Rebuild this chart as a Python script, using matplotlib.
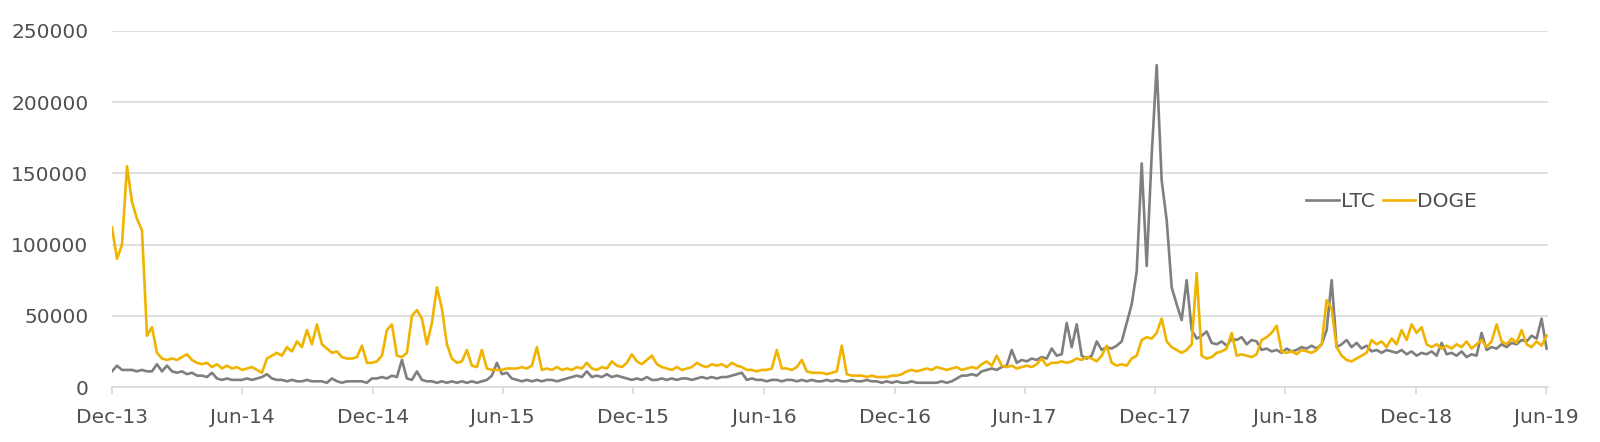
import numpy as np
import pandas as pd
import matplotlib
matplotlib.use("Agg")
import matplotlib.pyplot as plt
import matplotlib.dates as mdates

# weekly readings, thousands
start = "2013-12-01"

ltc_k = [
    11, 15, 12, 12, 12, 11, 12, 11, 11, 16, 11, 15, 11, 10, 11, 9, 10, 8, 8, 7,
    10, 6, 5, 6, 5, 5, 5, 6, 5, 6, 7, 9, 6, 5, 5, 4, 5, 4, 4, 5,
    4, 4, 4, 3, 6, 4, 3, 4, 4, 4, 4, 3, 6, 6, 7, 6, 8, 7, 19, 6,
    5, 11, 5, 4, 4, 3, 4, 3, 4, 3, 4, 3, 4, 3, 4, 5, 8, 17, 9, 10,
    6, 5, 4, 5, 4, 5, 4, 5, 5, 4, 5, 6, 7, 8, 7, 11, 7, 8, 7, 9,
    7, 8, 7, 6, 5, 6, 5, 7, 5, 5, 6, 5, 6, 5, 6, 6, 5, 6, 7, 6,
    7, 6, 7, 7, 8, 9, 10, 5, 6, 5, 5, 4, 5, 5, 4, 5, 5, 4, 5, 4,
    5, 4, 4, 5, 4, 5, 4, 4, 5, 4, 4, 5, 4, 4, 3, 4, 3, 4, 3, 3,
    4, 3, 3, 3, 3, 3, 4, 3, 4, 6, 8, 8, 9, 8, 11, 12, 13, 12, 14, 15,
    26, 17, 19, 18, 20, 19, 21, 20, 27, 22, 23, 45, 28, 44, 22, 20, 22, 32, 26, 28,
    27, 29, 32, 45, 58, 81, 157, 85, 163, 226, 145, 117, 70, 58, 47, 75, 40, 34, 36, 39,
    31, 30, 32, 29, 34, 33, 35, 30, 33, 32, 26, 27, 25, 26, 24, 27, 25, 26, 28, 27,
    29, 27, 30, 40, 75, 28, 30, 33, 28, 31, 27, 29, 25, 26, 24, 26, 25, 24, 26, 23,
    25, 22, 24, 23, 25, 22, 31, 23, 24, 22, 25, 21, 23, 22, 38, 26, 28, 27, 30, 28,
    31, 30, 33, 32, 36, 34, 48, 27,
]

doge_k = [
    112, 90, 100, 155, 130, 118, 110, 36, 42, 24, 20, 19, 20, 19, 21, 23, 19, 17, 16, 17,
    14, 16, 13, 15, 13, 14, 12, 13, 14, 12, 10, 20, 22, 24, 22, 28, 25, 32, 28, 40,
    30, 44, 30, 27, 24, 25, 21, 20, 20, 21, 29, 17, 17, 18, 22, 40, 44, 22, 21, 24,
    50, 54, 48, 30, 45, 70, 55, 30, 20, 17, 18, 26, 15, 14, 26, 13, 12, 12, 12, 13,
    13, 13, 14, 13, 15, 28, 12, 13, 12, 14, 12, 13, 12, 14, 13, 17, 13, 12, 14, 13,
    18, 15, 14, 17, 23, 18, 16, 19, 22, 16, 14, 13, 12, 14, 12, 13, 14, 17, 15, 14,
    16, 15, 16, 14, 17, 15, 14, 12, 12, 11, 12, 12, 13, 26, 13, 13, 12, 14, 19, 11,
    10, 10, 10, 9, 10, 11, 29, 9, 8, 8, 8, 7, 8, 7, 7, 7, 8, 8, 9, 11,
    12, 11, 12, 13, 12, 14, 13, 12, 13, 14, 12, 13, 14, 13, 16, 18, 15, 22, 15, 14,
    15, 13, 14, 15, 14, 16, 20, 15, 17, 17, 18, 17, 18, 20, 19, 21, 20, 18, 22, 29,
    17, 15, 16, 15, 20, 22, 33, 35, 34, 38, 48, 32, 28, 26, 24, 26, 30, 80, 22, 20,
    21, 24, 25, 27, 38, 22, 23, 22, 21, 23, 33, 35, 38, 43, 25, 24, 25, 23, 26, 25,
    24, 26, 30, 61, 55, 28, 22, 19, 18, 20, 22, 24, 33, 30, 32, 28, 34, 30, 40, 33,
    44, 38, 42, 30, 28, 30, 27, 29, 27, 30, 28, 32, 27, 30, 33, 28, 32, 44, 32, 30,
    34, 31, 40, 30, 28, 32, 29, 36,
]

dates = pd.date_range(start, periods=len(ltc_k), freq="7D")
ltc = np.array(ltc_k) * 1000
doge = np.array(doge_k) * 1000

txt = "#505050"
plt.rcParams["font.family"] = ["DejaVu Sans"]

fig = plt.figure(figsize=(16, 4.42), dpi=100)
ax = fig.add_axes([0.07, 0.1244, 0.8975, 0.8056])

ax.plot(dates, ltc, color="#7F7F7F", lw=1.9, label="LTC", solid_joinstyle="round")
ax.plot(dates, doge, color="#F0B400", lw=1.9, label="DOGE", solid_joinstyle="round")

ax.set_ylim(0, 250000)
ax.set_yticks(np.arange(0, 250001, 50000))
ax.set_xlim(dates[0], dates[-1] + pd.Timedelta(days=2))
ax.xaxis.set_major_locator(mdates.MonthLocator(bymonth=[6, 12], bymonthday=1))
ax.xaxis.set_major_formatter(mdates.DateFormatter("%b-%y"))

ax.grid(axis="y", color="#D9D9D9", lw=1.2)
ax.set_axisbelow(True)
for s in ["top", "right", "left"]:
    ax.spines[s].set_visible(False)
ax.spines["bottom"].set_color("#D9D9D9")
ax.spines["bottom"].set_linewidth(1.2)
ax.tick_params(axis="y", length=0, pad=17, labelsize=14.5, labelcolor=txt)
ax.tick_params(axis="x", length=5, width=1.2, color="#D9D9D9", pad=10,
               labelsize=14.5, labelcolor=txt)

ax.legend(loc="center", bbox_to_anchor=(0.891, 0.52), ncol=2, frameon=False,
          fontsize=14.5, labelcolor=txt, handlelength=1.6, handletextpad=0.1,
          columnspacing=0.4)

fig.savefig("out.png", dpi=100)
